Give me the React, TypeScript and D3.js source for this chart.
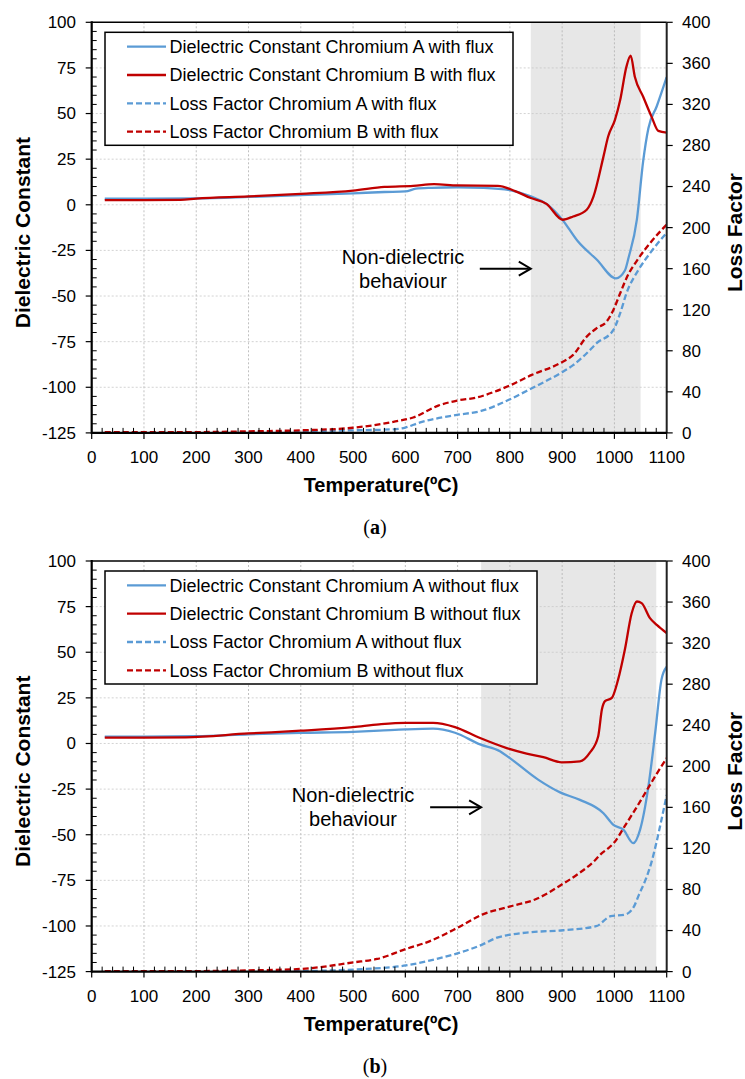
import React from 'react';
import * as d3 from 'd3';

// [temperature, value] pairs
const aDielA: [number, number][] = [[25,3.3],[100,3.3],[200,3.5],[300,4.3],[400,5.3],[500,6.3],[560,7],[600,7.3],[620,8.8],[650,9.3],[700,9.6],[750,9.3],[800,8],[840,4.6],[870,0.5],[900,-8],[930,-20],[966,-30],[1003,-40.3],[1020,-36],[1027,-29],[1043,-8],[1055,24],[1065,42],[1081,54],[1100,70]];
const aDielB: [number, number][] = [[25,2.6],[100,2.6],[170,2.7],[200,3.4],[300,4.6],[400,6],[500,7.8],[560,9.8],[615,10.4],[655,11.3],[700,10.6],[777,10.4],[810,7.5],[840,3.7],[870,0.5],[901,-8.2],[921,-6.4],[947,-2.7],[960,4.6],[979,26.4],[988,37.4],[1001,46.5],[1011,57.4],[1023,75.7],[1031,81.7],[1039,70.2],[1055,59.2],[1071,48.3],[1084,40.5],[1100,39.5]];
const aLossA: [number, number][] = [[25,0],[200,0],[300,0.5],[400,1.5],[500,2.5],[577,3.5],[600,5.2],[627,10],[699,17.5],[745,21.4],[797,32],[842,43.5],[896,58],[921,66],[947,77.6],[966,87.4],[998,100.3],[1011,116.6],[1023,136],[1046,158.8],[1068,175],[1100,195]];
const aLossB: [number, number][] = [[25,0.8],[100,0.8],[200,0.8],[300,1.5],[400,2.5],[500,5],[540,7.5],[577,10.8],[615,15],[663,26.6],[699,31.5],[736,34.4],[770,40],[799,46],[842,56.5],[896,67.9],[921,76],[947,93.8],[966,102],[985,108.4],[998,119.8],[1011,136],[1023,150.7],[1046,170],[1068,184.8],[1100,203]];

const bDielA: [number, number][] = [[25,3.8],[100,3.8],[200,4],[300,5],[400,5.8],[500,6.4],[550,7],[600,7.7],[653,8.1],[695,5.9],[743,-0.5],[781,-4.2],[800,-8],[854,-19.8],[896,-26.8],[934,-30.9],[979,-38.2],[998,-44.6],[1017,-47.2],[1036,-54.6],[1049,-47.3],[1065,-23.5],[1078,5.9],[1090,35],[1100,42]];
const bDielB: [number, number][] = [[25,3.2],[100,3.2],[180,3.4],[300,5.5],[400,7],[500,9],[550,10.5],[600,11.3],[653,11.3],[695,9],[743,3],[794,-2.5],[832,-5.5],[864,-7.5],[899,-10.3],[934,-9.8],[953,-5],[969,4],[976,18.6],[982,23.2],[995,25],[1007,35],[1020,51.5],[1033,71.4],[1043,77.8],[1052,76.9],[1068,68.7],[1081,65],[1100,60.5]];
const bLossA: [number, number][] = [[25,0],[250,0],[400,0.5],[501,2],[601,6],[646,10.7],[701,18],[747,26.3],[774,32.8],[801,36],[838,38.3],[902,40.3],[965,44.2],[993,54],[1020,55.5],[1038,64],[1047,75],[1060,90],[1070,105],[1080,125],[1090,148],[1100,172]];
const bLossB: [number, number][] = [[25,0.5],[200,0.5],[300,1.2],[400,2.6],[501,9],[546,12.3],[601,22],[646,29.5],[701,43],[747,55.5],[801,63.6],[847,70],[900,85],[930,95],[960,107],[975,115],[988,120],[1000,126],[1020,142],[1040,158],[1060,175],[1080,192],[1100,208]];

const xTicks = d3.range(0, 1101, 100);
const leftTicks = d3.range(-125, 101, 25);
const rightTicks = d3.range(0, 401, 40);
const legendA = ['Dielectric Constant Chromium A with flux', 'Dielectric Constant Chromium B with flux', 'Loss Factor Chromium A with flux', 'Loss Factor Chromium B with flux'];
const legendB = ['Dielectric Constant Chromium A without flux', 'Dielectric Constant Chromium B without flux', 'Loss Factor Chromium A without flux', 'Loss Factor Chromium B without flux'];

const BLUE = '#5B9BD5';
const RED = '#C00000';
const FONT = '"Liberation Sans", Arial, sans-serif';

const X0 = 91.7, X1 = 666.7, PH = 410.6;

function Panel({ top, diel, loss, labels, shade, legendW, textX, caption, id }: any) {
  const x = d3.scaleLinear().domain([0, 1100]).range([X0, X1]);
  const yL = d3.scaleLinear().domain([-125, 100]).range([top + PH, top]);
  const yR = d3.scaleLinear().domain([0, 400]).range([top + PH, top]);
  const bottom = top + PH;
  const lineL = d3.line<[number, number]>().x(d => x(d[0])).y(d => yL(d[1])).curve(d3.curveMonotoneX);
  const lineR = d3.line<[number, number]>().x(d => x(d[0])).y(d => yR(d[1])).curve(d3.curveMonotoneX);
  const series = [
    { d: lineL(diel[0]), c: BLUE, dash: undefined },
    { d: lineL(diel[1]), c: RED, dash: undefined },
    { d: lineR(loss[0]), c: BLUE, dash: '6,3' },
    { d: lineR(loss[1]), c: RED, dash: '6,3' },
  ];
  const arrowY = yR(160);
  const minorL = d3.range(-125, 101, 5).filter(v => v % 25 !== 0);
  const minorX = d3.range(0, 1101, 20).filter(v => v % 100 !== 0);
  return (
    <g>
      <defs>
        <clipPath id={`clip-${id}`}><rect x={X0} y={top} width={X1 - X0} height={PH} /></clipPath>
      </defs>
      <rect x={x(shade[0])} y={top} width={x(shade[1]) - x(shade[0])} height={PH} fill="#E7E7E7" />
      {xTicks.slice(1, -1).map(t => (
        <line key={'gx' + t} x1={x(t)} x2={x(t)} y1={top} y2={bottom} stroke="#B0B0B0" strokeWidth={0.8} strokeDasharray="2,2" />
      ))}
      {leftTicks.slice(1, -1).map(t => (
        <line key={'gy' + t} x1={X0} x2={X1} y1={yL(t)} y2={yL(t)} stroke="#C8C8C8" strokeWidth={0.8} strokeDasharray="2,2" />
      ))}
      <g clipPath={`url(#clip-${id})`}>
        {series.map((s, i) => (
          <path key={i} d={s.d || ''} fill="none" stroke={s.c} strokeWidth={2.3} strokeDasharray={s.dash} />
        ))}
      </g>
      {/* annotation */}
      <text x={textX} y={arrowY - 12} textAnchor="middle" dy="0.35em" fontFamily={FONT} fontSize={20}>Non-dielectric</text>
      <text x={textX} y={arrowY + 12} textAnchor="middle" dy="0.35em" fontFamily={FONT} fontSize={20}>behaviour</text>
      <line x1={x(shade[0]) - 51} x2={x(shade[0]) - 2} y1={arrowY} y2={arrowY} stroke="#000" strokeWidth={2} />
      <path d={`M${x(shade[0]) - 12},${arrowY - 7} L${x(shade[0])},${arrowY} L${x(shade[0]) - 12},${arrowY + 7}`} fill="none" stroke="#000" strokeWidth={2} />
      {/* legend */}
      <rect x={105} y={top + 10} width={legendW} height={113} fill="#fff" stroke="#000" strokeWidth={1.5} />
      {labels.map((l: string, i: number) => {
        const ly = top + 24.4 + i * 28.3;
        return (
          <g key={l}>
            <line x1={127} x2={166} y1={ly} y2={ly} stroke={i % 2 === 0 ? BLUE : RED} strokeWidth={2.3} strokeDasharray={i > 1 ? '6,3' : undefined} />
            <text x={169.5} y={ly} dy="0.35em" fontFamily={FONT} fontSize={18}>{l}</text>
          </g>
        );
      })}
      {/* axes */}
      <line x1={X0} x2={X1} y1={top} y2={top} stroke="#000" strokeWidth={1.5} />
      <line x1={X1} x2={X1} y1={top} y2={bottom} stroke="#222" strokeWidth={2} />
      <line x1={X0} x2={X0} y1={top - 1} y2={bottom + 1} stroke="#000" strokeWidth={2.2} />
      <line x1={X0} x2={X1} y1={bottom} y2={bottom} stroke="#000" strokeWidth={2.2} />
      {minorL.map(t => <line key={'ml' + t} x1={X0} x2={X0 + 5} y1={yL(t)} y2={yL(t)} stroke="#000" strokeWidth={1} />)}
      {minorX.map(t => <line key={'mx' + t} x1={x(t)} x2={x(t)} y1={bottom} y2={bottom - 5} stroke="#000" strokeWidth={1} />)}
      {leftTicks.map(t => (
        <g key={'lt' + t}>
          <line x1={X0 - 6} x2={X0} y1={yL(t)} y2={yL(t)} stroke="#000" strokeWidth={1.2} />
          <text x={76} y={yL(t)} dy="0.35em" textAnchor="end" fontFamily={FONT} fontSize={17}>{t}</text>
        </g>
      ))}
      {rightTicks.map(t => (
        <g key={'rt' + t}>
          <line x1={X1} x2={X1 + 6} y1={yR(t)} y2={yR(t)} stroke="#000" strokeWidth={1.2} />
          <text x={682} y={yR(t)} dy="0.35em" fontFamily={FONT} fontSize={17}>{t}</text>
        </g>
      ))}
      {xTicks.map(t => (
        <g key={'xt' + t}>
          <line x1={x(t)} x2={x(t)} y1={bottom} y2={bottom + 6} stroke="#000" strokeWidth={1.2} />
          <text x={x(t)} y={bottom + 24} dy="0.35em" textAnchor="middle" fontFamily={FONT} fontSize={17}>{t}</text>
        </g>
      ))}
      <text x={381} y={bottom + 52} dy="0.35em" textAnchor="middle" fontFamily={FONT} fontSize={20} fontWeight="bold">Temperature(ºC)</text>
      <text transform={`translate(23,${top + PH / 2 + 5}) rotate(-90)`} dy="0.35em" textAnchor="middle" fontFamily={FONT} fontSize={21} fontWeight="bold">Dielectric Constant</text>
      <text transform={`translate(735,${top + PH / 2 + 5}) rotate(-90)`} dy="0.35em" textAnchor="middle" fontFamily={FONT} fontSize={21} fontWeight="bold">Loss Factor</text>
      <text x={375} y={bottom + 94} dy="0.35em" textAnchor="middle" fontFamily='"Liberation Serif", serif' fontSize={20}>
        (<tspan fontWeight="bold">{caption}</tspan>)
      </text>
    </g>
  );
}

export default function App() {
  return (
    <svg width={745} height={1079} style={{ position: 'absolute', left: 0, top: 0, background: '#fff' }}>
      <rect width={745} height={1079} fill="#fff" />
      <Panel id="a" top={22.3} diel={[aDielA, aDielB]} loss={[aLossA, aLossB]} labels={legendA} shade={[840, 1050]} legendW={408} textX={403} caption="a" />
      <Panel id="b" top={561} diel={[bDielA, bDielB]} loss={[bLossA, bLossB]} labels={legendB} shade={[745, 1080]} legendW={432} textX={353} caption="b" />
    </svg>
  );
}
